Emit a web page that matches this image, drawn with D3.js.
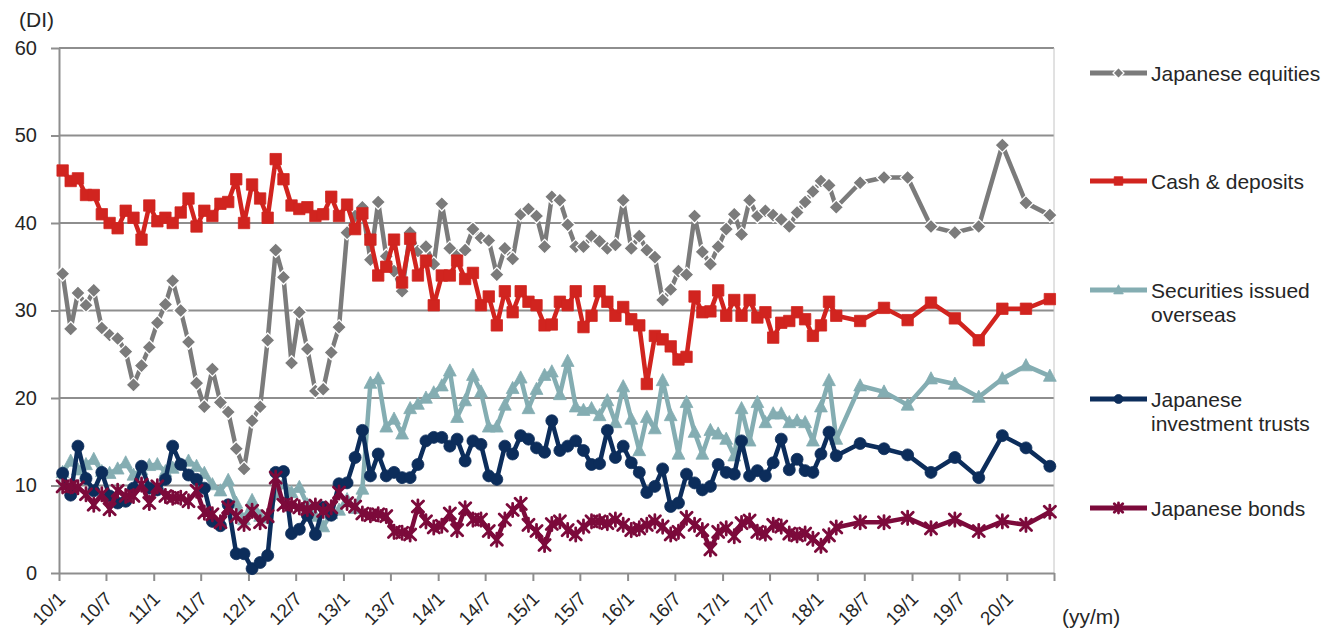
<!DOCTYPE html>
<html>
<head>
<meta charset="utf-8">
<script src="https://cdn.jsdelivr.net/npm/d3@7"></script>
<style>
  html, body { margin: 0; padding: 0; background: #ffffff; }
  svg { display: block; font-family: "Liberation Sans", Arial, Helvetica, sans-serif; }
</style>
</head>
<body>
<svg id="chart" width="1323" height="628"></svg>
<script>
// ---- Survey periods: monthly until 2018/3, quarterly afterwards ----
const monthlyFrom = "2010-01";
const monthlyTo = "2018-03";
const quarterlyPeriods = ["2018-06", "2018-09", "2018-12", "2019-03", "2019-06",
                          "2019-09", "2019-12", "2020-03", "2020-06"];

// ---- Axis ticks ----
const yTicks = [0, 10, 20, 30, 40, 50, 60];
const xTickLabels = ["10/1", "10/7", "11/1", "11/7", "12/1", "12/7", "13/1", "13/7",
                     "14/1", "14/7", "15/1", "15/7", "16/1", "16/7", "17/1", "17/7",
                     "18/1", "18/7", "19/1", "19/7", "20/1"];
const axisEndLabel = "20/7";

// ---- DI values (monthly 2010/1-2018/3, then quarterly 2018/6-2020/6) ----
const japaneseEquities = [
  34.2, 27.9, 32.0, 30.6, 32.3, 28.0, 27.2, 26.8, 25.3, 21.5,
  23.7, 25.8, 28.6, 30.7, 33.4, 30.0, 26.4, 21.7, 19.0, 23.3,
  19.5, 18.4, 14.2, 11.9, 17.4, 19.0, 26.6, 36.9, 33.8, 24.0,
  29.8, 25.6, 20.8, 21.0, 25.2, 28.1, 38.9, 40.8, 41.8, 35.8,
  42.4, 36.2, 34.5, 32.2, 38.9, 36.8, 37.3, 35.3, 42.2, 37.1,
  36.3, 36.9, 39.3, 38.3, 38.0, 34.1, 37.1, 35.9, 41.0, 41.6,
  40.8, 37.3, 43.0, 42.6, 39.8, 37.3, 37.3, 38.5, 37.9, 37.1,
  37.5, 42.6, 37.1, 38.5, 36.9, 36.1, 31.2, 32.4, 34.5, 34.1,
  40.8, 36.7, 35.3, 37.3, 39.3, 41.0, 38.7, 42.6, 40.8, 41.4,
  40.9, 40.4, 39.6, 41.2, 42.4, 43.6, 44.8, 44.3, 41.8,
  44.6, 45.2, 45.2, 39.6, 38.9, 39.6, 48.9, 42.3, 40.9
];
const cashDeposits = [
  46.0, 44.8, 45.1, 43.2, 43.2, 41.0, 40.0, 39.4, 41.4, 40.6,
  38.1, 42.0, 40.2, 40.6, 40.0, 41.2, 42.8, 39.6, 41.4, 40.8,
  42.2, 42.4, 45.0, 40.0, 44.4, 42.8, 40.6, 47.3, 45.0, 42.0,
  41.6, 41.8, 40.8, 41.0, 43.0, 40.8, 42.1, 39.3, 41.1, 38.1,
  34.0, 35.0, 38.1, 33.2, 38.2, 34.0, 35.7, 30.6, 34.0, 34.0,
  35.7, 33.6, 34.3, 30.6, 31.6, 28.3, 32.2, 29.8, 32.2, 31.0,
  30.6, 28.3, 28.4, 31.0, 30.6, 32.2, 28.1, 29.4, 32.2, 31.0,
  29.4, 30.4, 29.0, 28.3, 21.6, 27.1, 26.7, 25.9, 24.4, 24.7,
  31.6, 29.8, 29.9, 32.3, 29.4, 31.2, 29.4, 31.2, 29.2, 29.8,
  26.9, 28.6, 28.8, 29.8, 29.0, 27.1, 28.3, 31.0, 29.4,
  28.8, 30.3, 28.9, 30.9, 29.1, 26.6, 30.2, 30.2, 31.3
];
const securitiesOverseas = [
  11.5, 12.8, 11.8, 12.4, 13.0, 11.6, 11.4, 11.9, 12.6, 11.2,
  11.8, 12.3, 12.4, 11.6, 12.0, 12.4, 12.8, 12.2, 11.4, 10.1,
   9.4, 10.6,  8.0,  6.1,  8.3,  6.5,  6.3,  9.0, 10.2,  9.2,
   9.8,  7.8,  6.5,  5.3,  6.8,  7.2,  8.4,  7.4,  9.6, 21.7,
  22.2, 16.7, 17.6, 15.9, 18.8, 19.3, 20.0, 20.6, 21.4, 23.1,
  17.8, 19.7, 22.6, 20.7, 16.7, 16.7, 19.2, 21.1, 22.3, 18.8,
  21.0, 22.6, 23.0, 20.4, 24.2, 19.0, 18.6, 18.8, 18.0, 19.7,
  17.2, 21.3, 17.6, 14.0, 17.8, 16.5, 22.0, 18.0, 13.6, 19.5,
  16.1, 13.6, 16.3, 15.9, 15.3, 13.4, 18.8, 15.1, 19.5, 17.2,
  18.2, 18.2, 17.2, 17.4, 17.2, 15.1, 19.0, 22.0, 15.3,
  21.4, 20.7, 19.2, 22.2, 21.6, 20.1, 22.2, 23.7, 22.5
];
const investmentTrusts = [
  11.4,  8.9, 14.5, 10.8,  9.4, 11.5,  8.8,  8.0,  8.2,  9.7,
  12.2,  9.7,  9.5, 10.7, 14.5, 12.4, 11.2, 10.7,  9.7,  5.9,
   5.4,  7.8,  2.2,  2.2,  0.5,  1.2,  2.0, 11.5, 11.6,  4.5,
   5.0,  6.6,  4.4,  7.5,  6.6, 10.2, 10.3, 13.2, 16.3, 11.1,
  13.6, 11.1, 11.5, 10.9, 10.9, 12.4, 15.1, 15.5, 15.5, 14.5,
  15.3, 12.8, 15.1, 14.7, 11.1, 10.7, 14.5, 13.6, 15.7, 15.3,
  14.3, 13.8, 17.4, 14.0, 14.5, 15.1, 14.0, 12.4, 12.5, 16.3,
  13.2, 14.5, 12.6, 11.5,  9.2,  9.9, 11.9,  7.6,  8.0, 11.3,
  10.3,  9.5,  9.9, 12.4, 11.5, 11.3, 15.1, 11.1, 11.7, 11.1,
  12.6, 15.3, 11.8, 13.0, 11.7, 11.5, 13.6, 16.1, 13.4,
  14.8, 14.2, 13.5, 11.5, 13.2, 10.9, 15.7, 14.3, 12.2
];
const japaneseBonds = [
   9.9,  9.9,  9.8,  9.0,  7.8,  9.0,  7.3,  9.4,  8.8,  8.8,
  10.1,  8.0,  9.9,  8.8,  8.6,  8.6,  8.2,  9.4,  6.9,  6.7,
   5.8,  7.5,  6.5,  5.6,  7.1,  5.8,  6.5, 10.9,  7.8,  7.8,
   7.5,  7.3,  7.7,  7.1,  7.5,  9.2,  8.0,  7.6,  6.8,  6.6,
   6.7,  6.5,  4.7,  4.6,  4.4,  7.6,  5.9,  5.2,  5.4,  6.8,
   4.9,  7.4,  6.1,  6.1,  4.8,  3.8,  6.1,  7.2,  7.9,  5.5,
   4.8,  3.2,  5.6,  5.9,  4.9,  4.4,  5.3,  5.9,  5.9,  5.7,
   6.1,  5.5,  4.9,  5.1,  5.5,  5.9,  5.3,  4.4,  4.7,  6.3,
   5.5,  4.9,  2.7,  4.7,  5.1,  4.2,  5.7,  6.0,  4.7,  4.5,
   5.5,  5.3,  4.5,  4.3,  4.5,  3.9,  3.1,  4.3,  5.2,
   5.8,  5.8,  6.3,  5.1,  6.1,  4.8,  5.9,  5.5,  7.0
];

// ---- Layout ----
const plot = { left: 59, right: 1054, top: 48, bottom: 573 };
const gridColor = "#8e8e8e";
const textColor = "#262626";

const svg = d3.select("#chart");

const parseMonth = d3.timeParse("%Y-%m");
const parseTick = d3.timeParse("%y/%m");

const monthlyPeriods = d3.timeMonth.range(parseMonth(monthlyFrom),
                                          d3.timeMonth.offset(parseMonth(monthlyTo), 1));
const periods = monthlyPeriods.concat(quarterlyPeriods.map(parseMonth));
// each observation is plotted in the middle of its month
const pointDates = periods.map(d => d3.timeDay.offset(d, 14));

const tickDates = xTickLabels.map(parseTick).concat([parseTick(axisEndLabel)]);

const x = d3.scaleTime()
  .domain([parseTick(xTickLabels[0]), parseTick(axisEndLabel)])
  .range([plot.left, plot.right]);
const y = d3.scaleLinear().domain([0, 60]).range([plot.bottom, plot.top]);

// ---- Gridlines and frame ----
svg.append("g").selectAll("line")
  .data(yTicks.filter(v => v > 0))
  .join("line")
  .attr("x1", plot.left).attr("x2", plot.right)
  .attr("y1", d => y(d)).attr("y2", d => y(d))
  .attr("stroke", gridColor).attr("stroke-width", 2);

svg.append("line")
  .attr("x1", plot.right).attr("x2", plot.right)
  .attr("y1", plot.top).attr("y2", plot.bottom)
  .attr("stroke", "#c4c4c4").attr("stroke-width", 1);

// ---- Y axis ----
const yAxis = svg.append("g")
  .attr("transform", `translate(${plot.left},0)`)
  .call(d3.axisLeft(y).tickValues(yTicks).tickSize(8).tickSizeOuter(0).tickPadding(14));
yAxis.select(".domain").attr("stroke", gridColor).attr("stroke-width", 2);
yAxis.selectAll(".tick line").attr("stroke", gridColor).attr("stroke-width", 2);
yAxis.selectAll(".tick text")
  .attr("fill", textColor).style("font-size", "20px");

// ---- X axis ----
const xAxis = svg.append("g")
  .attr("transform", `translate(0,${plot.bottom})`)
  .call(d3.axisBottom(x).tickValues(tickDates).tickSize(8).tickSizeOuter(0)
        .tickFormat((d, i) => xTickLabels[i] || ""));
xAxis.select(".domain").attr("stroke", gridColor).attr("stroke-width", 2);
xAxis.selectAll(".tick line").attr("stroke", gridColor).attr("stroke-width", 2);
xAxis.selectAll(".tick text")
  .attr("fill", textColor).style("font-size", "19px")
  .attr("text-anchor", "end")
  .attr("x", 0).attr("y", 0).attr("dy", 0)
  .attr("transform", "translate(7,27) rotate(-45)");

// ---- Axis captions ----
svg.append("text").attr("x", 19).attr("y", 27)
  .attr("fill", textColor).style("font-size", "21px").text("(DI)");
svg.append("text").attr("x", 1062).attr("y", 624)
  .attr("fill", textColor).style("font-size", "21px").text("(yy/m)");

// ---- Marker shapes ----
function markerPath(kind, r) {
  switch (kind) {
    case "diamond":
      return `M0,${-r}L${r},0L0,${r}L${-r},0Z`;
    case "square":
      return `M${-r},${-r}H${r}V${r}H${-r}Z`;
    case "triangle":
      return `M0,${-r * 1.15}L${r * 1.05},${r * 0.85}L${-r * 1.05},${r * 0.85}Z`;
    case "circle": {
      const p = d3.path();
      p.arc(0, 0, r, 0, 2 * Math.PI);
      p.closePath();
      return p.toString();
    }
    case "asterisk":
      return `M${-r},${-r}L${r},${r}M${-r},${r}L${r},${-r}M0,${-r * 1.2}L0,${r * 1.2}`;
  }
}

const series = [
  { name: ["Japanese equities"], values: japaneseEquities, color: "#7b7b7b", marker: "diamond", r: 7.3, legendY: 73 },
  { name: ["Cash & deposits"], values: cashDeposits, color: "#d1241f", marker: "square", r: 5.7, legendY: 181 },
  { name: ["Securities issued", "overseas"], values: securitiesOverseas, color: "#84adb2", marker: "triangle", r: 6.1, legendY: 290 },
  { name: ["Japanese", "investment trusts"], values: investmentTrusts, color: "#0c2d5b", marker: "circle", r: 6.0, legendY: 399 },
  { name: ["Japanese bonds"], values: japaneseBonds, color: "#7c0a3b", marker: "asterisk", r: 5.6, legendY: 508 }
];

function styleMarker(sel, s) {
  if (s.marker === "asterisk") {
    sel.attr("fill", "none").attr("stroke", s.color).attr("stroke-width", 2.8).attr("stroke-linecap", "round");
  } else if (s.marker === "diamond") {
    sel.attr("fill", s.color).attr("stroke", "#ffffff").attr("stroke-width", 1.3);
  } else {
    sel.attr("fill", s.color).attr("stroke", s.color).attr("stroke-width", 0.8);
  }
}

const line = d3.line()
  .x(d => x(d.date))
  .y(d => y(d.value));

series.forEach(s => {
  const pts = s.values.map((v, i) => ({ date: pointDates[i], value: v }));
  const g = svg.append("g");
  g.append("path")
    .datum(pts)
    .attr("d", line)
    .attr("fill", "none")
    .attr("stroke", s.color)
    .attr("stroke-width", 4.5)
    .attr("stroke-linejoin", "round");
  g.selectAll("path.mk")
    .data(pts)
    .join("path")
    .attr("class", "mk")
    .attr("d", markerPath(s.marker, s.r))
    .attr("transform", d => `translate(${x(d.date)},${y(d.value)})`)
    .call(sel => styleMarker(sel, s));
});

// ---- Legend ----
const legend = svg.append("g");
series.forEach(s => {
  const g = legend.append("g").attr("transform", `translate(0,${s.legendY})`);
  g.append("line").attr("x1", 1090).attr("x2", 1147).attr("y1", 0).attr("y2", 0)
    .attr("stroke", s.color).attr("stroke-width", 5);
  g.append("path").attr("d", markerPath(s.marker, s.r * 0.75))
    .attr("transform", "translate(1118.5,0)")
    .call(sel => styleMarker(sel, s));
  const t = g.append("text").attr("x", 1151).attr("y", 0)
    .attr("fill", textColor).style("font-size", "21px");
  s.name.forEach((ln, k) => {
    t.append("tspan").attr("x", 1151).attr("y", k * 24).attr("dy", "0.36em").text(ln);
  });
});
</script>
</body>
</html>
